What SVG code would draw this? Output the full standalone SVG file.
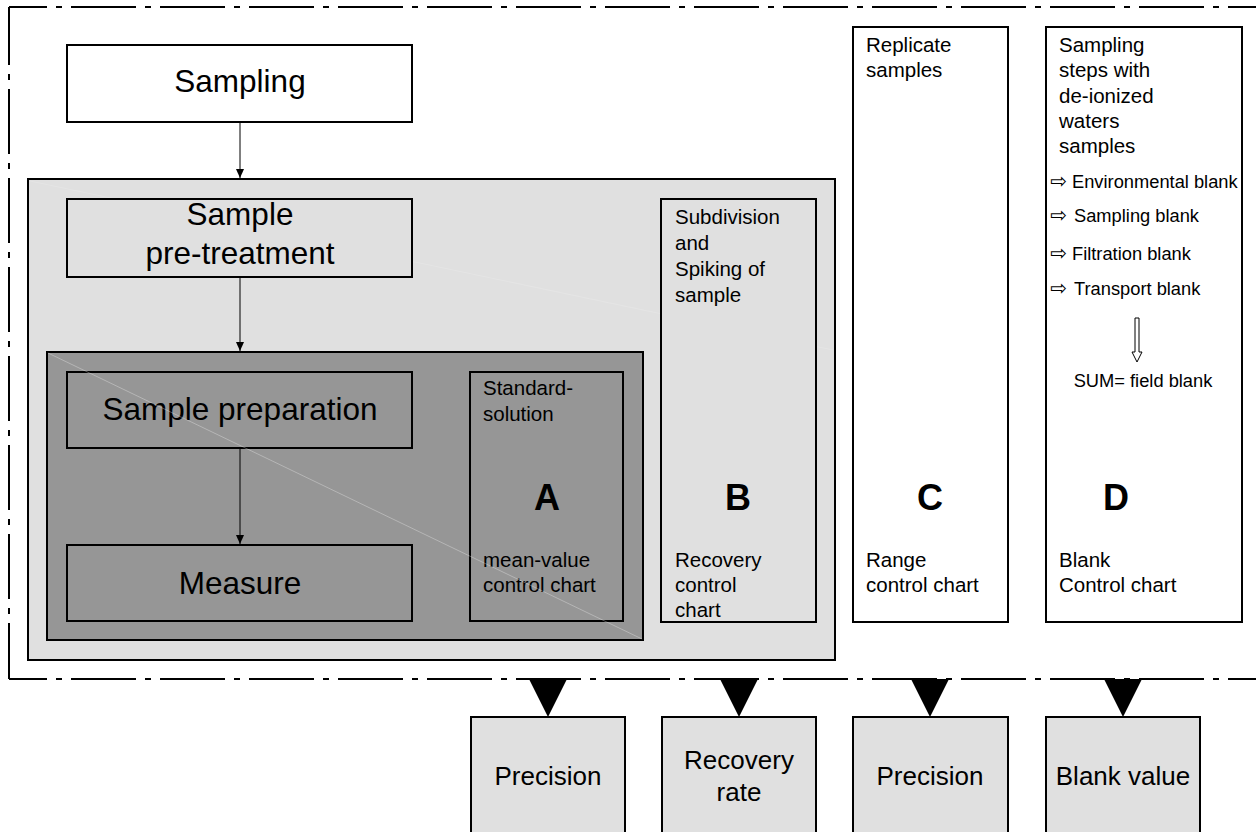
<svg xmlns="http://www.w3.org/2000/svg" width="1256" height="832" viewBox="0 0 1256 832">
  <defs>
    <marker id="arrow" markerWidth="10" markerHeight="10" refX="9" refY="4" orient="auto" markerUnits="userSpaceOnUse">
      <path d="M0,0 L9,4 L0,8 Z" fill="#000"/>
    </marker>
    <style>
      text { font-family: "Liberation Sans", Arial, sans-serif; fill: #000; }
      .box { stroke: #000; stroke-width: 2; }
      .white { fill: #fff; }
      .light { fill: #e0e0e0; }
      .dark { fill: #969696; }
      .big { font-size: 31.5px; text-anchor: middle; }
      .lbl { font-size: 20.5px; }
      .item { font-size: 18.3px; }
      .bullet { font-family: "DejaVu Sans", sans-serif; font-size: 20px; }
      .letter { font-size: 36px; font-weight: bold; text-anchor: middle; }
      .res { font-size: 26px; text-anchor: middle; }
      .frame { fill: none; stroke: #000; stroke-width: 2; stroke-dasharray: 65 9 6 9; }
      .conn { stroke: #000; stroke-width: 1; fill: none; }
      .sheen { stroke: #fff; stroke-width: 1; opacity: 0.3; fill: none; }
      .sheen.faint { opacity: 0.15; }
    </style>
  </defs>

  <rect width="1256" height="832" fill="#fff"/>

  <!-- dash-dot boundary -->
  <g id="boundary">
    <line class="frame" x1="9" y1="7" x2="1260" y2="7" stroke-dashoffset="27"/>
    <line class="frame" x1="9" y1="7" x2="9" y2="679" stroke-dashoffset="7"/>
    <line class="frame" x1="9" y1="679" x2="1260" y2="679" stroke-dashoffset="27"/>
  </g>

  <g id="sampling">
    <rect class="box white" x="67" y="45" width="345" height="77"/>
    <text class="big" x="240" y="92">Sampling</text>
  </g>

  <g id="field-area">
    <rect class="box light" x="28" y="179" width="807" height="481"/>
    <line class="sheen faint" x1="30" y1="181" x2="833" y2="350"/>
  </g>

  <g id="pre-treatment">
    <rect class="box light" x="67" y="199" width="345" height="78"/>
    <text class="big" x="240" y="225">Sample</text>
    <text class="big" x="240" y="264">pre-treatment</text>
  </g>

  <g id="lab-area">
    <rect class="box dark" x="47" y="352" width="596" height="288"/>
  </g>

  <g id="preparation">
    <rect class="box dark" x="67" y="372" width="345" height="76"/>
    <text class="big" x="240" y="420">Sample preparation</text>
  </g>

  <g id="measure">
    <rect class="box dark" x="67" y="545" width="345" height="76"/>
    <text class="big" x="240" y="594">Measure</text>
  </g>

  <g id="box-a">
    <rect class="box dark" x="470" y="372" width="153" height="249"/>
    <text class="lbl" x="483" y="395">Standard-</text>
    <text class="lbl" x="483" y="421">solution</text>
    <text class="letter" x="547" y="510">A</text>
    <text class="lbl" x="483" y="567">mean-value</text>
    <text class="lbl" x="483" y="592">control chart</text>
  </g>

  <line class="sheen" x1="48" y1="353" x2="642" y2="639"/>

  <g id="box-b">
    <rect class="box light" x="661" y="199" width="155" height="423"/>
    <text class="lbl" x="675" y="224">Subdivision</text>
    <text class="lbl" x="675" y="250">and</text>
    <text class="lbl" x="675" y="276">Spiking of</text>
    <text class="lbl" x="675" y="302">sample</text>
    <text class="letter" x="738" y="510">B</text>
    <text class="lbl" x="675" y="567">Recovery</text>
    <text class="lbl" x="675" y="592">control</text>
    <text class="lbl" x="675" y="617">chart</text>
  </g>

  <g id="box-c">
    <rect class="box white" x="853" y="27" width="155" height="595"/>
    <text class="lbl" x="866" y="52">Replicate</text>
    <text class="lbl" x="866" y="77">samples</text>
    <text class="letter" x="930" y="510">C</text>
    <text class="lbl" x="866" y="567">Range</text>
    <text class="lbl" x="866" y="592">control chart</text>
  </g>

  <g id="box-d">
    <rect class="box white" x="1046" y="27" width="196" height="595"/>
    <text class="lbl" x="1059" y="52">Sampling</text>
    <text class="lbl" x="1059" y="77">steps with</text>
    <text class="lbl" x="1059" y="103">de-ionized</text>
    <text class="lbl" x="1059" y="128">waters</text>
    <text class="lbl" x="1059" y="153">samples</text>
    <text class="item" x="1050" y="188"><tspan class="bullet">⇨</tspan><tspan x="1072">Environmental blank</tspan></text>
    <text class="item" x="1050" y="222"><tspan class="bullet">⇨</tspan><tspan x="1074">Sampling blank</tspan></text>
    <text class="item" x="1050" y="260"><tspan class="bullet">⇨</tspan><tspan x="1072">Filtration blank</tspan></text>
    <text class="item" x="1050" y="295"><tspan class="bullet">⇨</tspan><tspan x="1074">Transport blank</tspan></text>
    <path d="M1135,318 H1139 V352 H1142 L1137,362 L1132,352 H1135 Z" fill="#fff" stroke="#000" stroke-width="1"/>
    <text class="item" x="1143" y="387" text-anchor="middle">SUM= field blank</text>
    <text class="letter" x="1116" y="510">D</text>
    <text class="lbl" x="1059" y="567">Blank</text>
    <text class="lbl" x="1059" y="592">Control chart</text>
  </g>

  <g id="result-precision-a">
    <rect class="box light" x="471" y="717" width="154" height="130"/>
    <text class="res" x="548" y="785">Precision</text>
  </g>
  <g id="result-recovery">
    <rect class="box light" x="662" y="717" width="154" height="130"/>
    <text class="res" x="739" y="769">Recovery</text>
    <text class="res" x="739" y="801">rate</text>
  </g>
  <g id="result-precision-c">
    <rect class="box light" x="853" y="717" width="155" height="130"/>
    <text class="res" x="930" y="785">Precision</text>
  </g>
  <g id="result-blank">
    <rect class="box light" x="1046" y="717" width="154" height="130"/>
    <text class="res" x="1123" y="785">Blank value</text>
  </g>

  <g id="connectors">
    <line class="conn" x1="240" y1="122" x2="240" y2="178" marker-end="url(#arrow)"/>
    <line class="conn" x1="240" y1="277" x2="240" y2="351" marker-end="url(#arrow)"/>
    <line class="conn" x1="240" y1="448" x2="240" y2="544" marker-end="url(#arrow)"/>
    <polygon points="529,679 567,679 548,717" fill="#000"/>
    <polygon points="720,679 758,679 739,717" fill="#000"/>
    <polygon points="911,679 949,679 930,717" fill="#000"/>
    <polygon points="1104,679 1142,679 1123,717" fill="#000"/>
  </g>
</svg>
